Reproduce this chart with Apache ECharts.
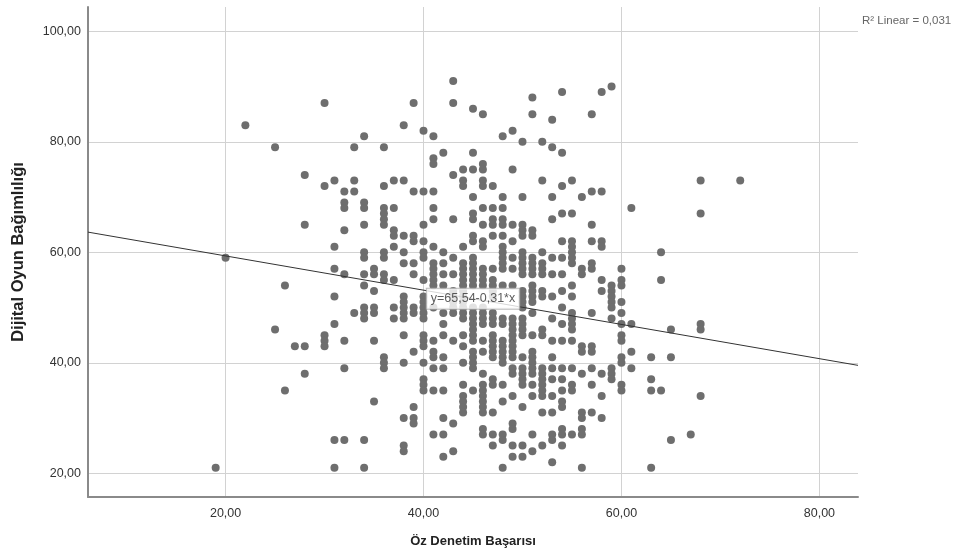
<!DOCTYPE html>
<html>
<head>
<meta charset="utf-8">
<script src="https://cdn.jsdelivr.net/npm/echarts@6/dist/echarts.min.js"></script>
<style>
html,body{margin:0;padding:0;background:#fff}
#chart{width:957px;height:559px}
</style>
</head>
<body>
<div id="chart"></div>
<script>
// Öz Denetim Başarısı values (x), one entry per column of dots
var xColumns = [19,20,22,25,26,27,28,30,31,32,33,34,35,36,37,38,39,40,41,42,43,44,45,46,47,48,49,50,51,52,53,54,55,56,57,58,59,60,61,63,64,65,67,68,72];
// Dijital Oyun Bağımlılığı values (y) for each column above
var yByColumn = [
    [21],
    [59],
    [83],
    [79,46],
    [54,35],
    [43],
    [74,65,43,38],
    [87,72,45,44,43],
    [73,61,57,52,47,26,21],
    [71,69,68,64,56,44,39,26],
    [79,73,71,49],
    [81,69,68,65,60,59,56,54,50,49,48,26,21],
    [57,56,53,50,49,44,33],
    [79,72,68,67,66,65,60,59,56,55,41,40,39],
    [73,68,64,63,61,55,50,48],
    [83,73,63,60,58,52,51,50,49,48,45,40,30,25,24],
    [87,71,63,62,58,56,50,49,42,32,30,29],
    [82,71,65,62,60,59,55,52,51,50,49,48,45,44,43,40,37,36,35],
    [81,77,76,71,68,66,61,58,57,56,55,54,50,44,42,41,39,35,27],
    [78,60,58,56,54,49,47,45,41,39,35,30,27,23],
    [91,87,74,66,59,56,53,52,51,50,49,44,29,24],
    [75,73,72,61,58,57,56,55,54,53,52,51,50,49,48,45,43,40,36,34,33,32,31],
    [86,78,75,70,67,66,63,62,59,58,57,56,55,54,50,49,48,47,46,45,44,42,41,40,39,35],
    [85,76,75,73,72,68,65,62,61,57,56,55,54,50,49,48,47,44,42,38,36,35,34,33,32,31,28,27],
    [72,68,66,65,63,57,55,54,53,52,49,48,47,45,44,43,42,41,37,36,31,27,25],
    [81,70,68,66,65,63,61,60,59,58,57,54,48,47,44,43,42,41,40,36,33,27,26,21],
    [82,75,65,62,59,57,54,48,47,46,45,44,43,42,41,39,38,34,29,28,25,23],
    [80,70,65,64,63,60,59,58,57,56,53,52,51,50,48,47,46,45,41,39,38,37,36,32,25,23],
    [88,85,64,63,59,58,57,56,54,53,52,51,49,45,42,41,40,39,38,36,34,27,24],
    [80,73,60,58,57,56,53,52,46,45,39,38,37,36,35,34,31,25],
    [84,79,70,66,59,56,52,48,44,41,39,37,34,31,27,26,22],
    [89,78,72,67,62,59,56,53,50,47,44,39,37,35,33,32,28,27,25],
    [73,67,62,61,60,59,58,54,52,49,48,47,46,44,39,36,35,27],
    [70,57,56,43,42,38,31,30,28,27,21],
    [85,71,65,62,58,57,49,43,42,39,36,31],
    [89,71,62,61,55,53,38,34,30],
    [90,54,53,52,51,50,48,39,38,37],
    [57,55,54,51,49,47,45,44,41,40,36,35],
    [68,47,42,39],
    [41,37,35,21],
    [60,55,35],
    [46,41,26],
    [27],
    [73,67,47,46,34],
    [73]
];
var xTicks = [20, 40, 60, 80];
var yTicks = [20, 40, 60, 80, 100];
var intercept = 65.54, slope = -0.31;
var xRange = [6.1, 83.9];
var yRange = [15.7, 104.4];

var points = [];
xColumns.forEach(function (x, i) {
    yByColumn[i].forEach(function (y) { points.push([x, y]); });
});
var fitLine = xRange.map(function (x) { return [x, intercept + slope * x]; });
var labelX = 45;

function fmt(v) { return v.toFixed(2).replace('.', ','); }

var font = 'Arial, "Liberation Sans", sans-serif';

var option = {
    animation: false,
    textStyle: { fontFamily: font },
    title: {
        text: 'R\u00b2 Linear = 0,031',
        left: 857, top: 10,
        textStyle: { fontSize: 11.5, fontWeight: 'normal', color: '#666', fontFamily: font }
    },
    grid: { left: 88, right: 99, top: 7, bottom: 62 },
    xAxis: {
        type: 'value',
        min: xRange[0], max: xRange[1],
        name: 'Öz Denetim Başarısı',
        nameLocation: 'middle',
        nameGap: 38,
        nameTextStyle: { fontSize: 13, fontWeight: 'bold', color: '#222' },
        axisLine: { show: true, onZero: false, lineStyle: { color: '#8a8a8a', width: 2 } },
        axisTick: { show: false, customValues: xTicks },
        axisLabel: { customValues: xTicks, formatter: fmt, fontSize: 12.5, color: '#333', margin: 10 },
        splitLine: { show: true, lineStyle: { color: '#d2d2d2', width: 1 } }
    },
    yAxis: {
        type: 'value',
        min: yRange[0], max: yRange[1],
        name: 'Dijital Oyun Bağımlılığı',
        nameLocation: 'middle',
        nameGap: 61,
        nameTextStyle: { fontSize: 16.5, fontWeight: 'bold', color: '#222' },
        axisLine: { show: true, onZero: false, lineStyle: { color: '#8a8a8a', width: 2 } },
        axisTick: { show: false, customValues: yTicks },
        axisLabel: { customValues: yTicks, formatter: fmt, fontSize: 12.5, color: '#333', margin: 7 },
        splitLine: { show: true, lineStyle: { color: '#d2d2d2', width: 1 } }
    },
    series: [{
        type: 'scatter',
        data: points,
        symbolSize: 8,
        itemStyle: { color: '#6e6e6e', opacity: 1 },
        emphasis: { disabled: true }
    }, {
        type: 'line',
        data: fitLine,
        symbol: 'none',
        lineStyle: { color: '#333', width: 1 },
        z: 3,
        emphasis: { disabled: true }
    }, {
        type: 'scatter',
        data: [[labelX, intercept + slope * labelX]],
        symbolSize: 0,
        z: 4,
        label: {
            show: true,
            position: 'inside',
            formatter: 'y=65,54-0,31*x',
            fontSize: 12.5,
            color: '#333',
            backgroundColor: '#fff',
            borderColor: '#aaa',
            borderWidth: 1,
            padding: [4, 4, 3, 4]
        },
        emphasis: { disabled: true }
    }]
};

echarts.init(document.getElementById('chart')).setOption(option);
</script>
</body>
</html>
